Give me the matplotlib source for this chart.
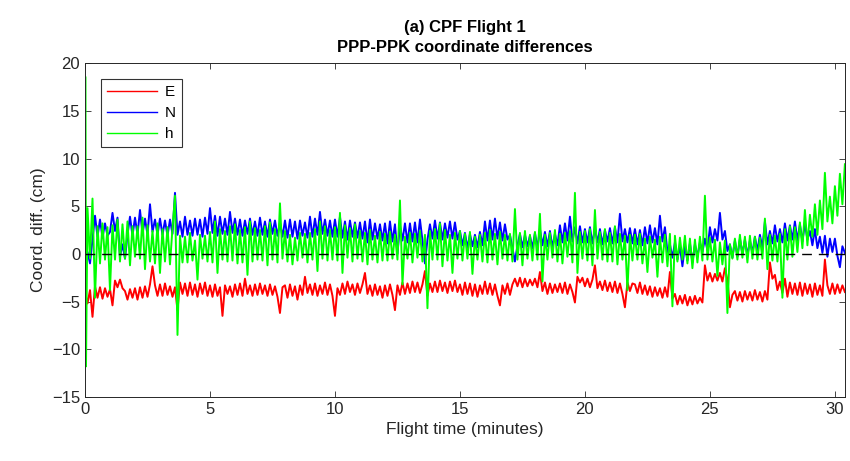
import numpy as np
import matplotlib
matplotlib.use("Agg")
import matplotlib.pyplot as plt

plt.rcParams['font.family'] = ['Liberation Sans', 'DejaVu Sans']

# time grid (minutes), one sample every 0.1 min
t = np.linspace(0, 30.4, 305)

# East differences (cm), 10 samples per minute
dE = [-4.0, -5.2, -3.8, -6.6, -3.4, -4.6, -3.5, -4.7, -3.6, -4.5,
      -3.7, -5.4, -2.8, -3.5, -2.7, -3.6, -3.9, -4.8, -3.7, -4.6,
      -3.6, -4.8, -3.5, -4.6, -3.4, -4.5, -3.2, -1.3, -3.3, -4.4,
      -3.2, -4.4, -3.1, -4.3, -3.4, -4.5, -3.5, -5.9, -3.0, -4.2,
      -3.1, -4.4, -3.0, -4.3, -3.2, -4.5, -3.1, -4.2, -3.0, -4.4,
      -3.3, -4.5, -3.2, -4.4, -3.5, -6.5, -3.3, -4.2, -3.4, -4.5,
      -3.2, -4.3, -3.1, -4.4, -2.6, -4.2, -3.3, -4.4, -3.2, -4.3,
      -3.1, -4.2, -3.3, -4.4, -3.2, -4.3, -3.4, -4.5, -6.2, -3.5,
      -3.3, -4.6, -3.2, -4.4, -3.4, -4.8, -3.3, -4.3, -2.4, -4.1,
      -3.2, -4.3, -3.1, -4.4, -3.3, -4.2, -3.0, -4.3, -3.2, -4.4,
      -6.5, -3.6, -4.3, -3.1, -4.2, -2.9, -4.0, -3.2, -4.3, -3.1,
      -4.1, -3.2, -2.0, -4.2, -3.3, -4.4, -3.2, -4.3, -3.4, -4.6,
      -3.3, -4.4, -3.2, -4.3, -5.9, -3.3, -4.3, -3.0, -4.2, -3.1,
      -4.1, -2.9, -4.0, -3.0, -4.1, -3.2, -1.8, -4.4, -3.1, -4.0,
      -2.9, -4.0, -2.8, -3.9, -3.0, -4.1, -2.9, -3.9, -2.8, -4.0,
      -3.2, -4.3, -3.0, -4.2, -3.1, -4.4, -3.2, -4.5, -3.3, -4.2,
      -2.9, -4.2, -3.1, -4.3, -3.2, -4.4, -5.4, -3.3, -4.2, -3.1,
      -4.3, -3.2, -2.6, -3.4, -2.5, -3.5, -2.6, -3.4, -2.7, -3.3,
      -2.6, -3.5, -1.9, -3.9, -3.0, -4.2, -3.1, -4.1, -3.2, -4.0,
      -3.1, -4.1, -3.0, -4.2, -3.2, -4.0, -5.1, -2.4, -3.0, -2.5,
      -3.4, -2.6, -3.5, -2.7, -1.2, -3.6, -2.9, -3.8, -2.8, -3.9,
      -3.0, -4.0, -2.9, -4.1, -3.1, -4.2, -5.6, -3.0, -3.9, -3.1,
      -3.2, -4.1, -3.0, -4.2, -3.3, -4.3, -3.4, -4.5, -3.5, -4.4,
      -3.6, -4.6, -3.5, -4.5, -1.9, -4.7, -4.2, -5.3, -4.4, -5.2,
      -4.3, -5.4, -4.5, -5.3, -4.4, -5.2, -4.6, -5.1, -1.2, -2.8,
      -2.0, -2.9, -2.1, -2.8, -2.0, -2.9, -1.5, -2.7, -5.6, -4.3,
      -3.9, -4.9, -4.0, -5.0, -3.9, -4.8, -4.0, -4.9, -3.8, -4.8,
      -4.0, -5.0, -3.9, -4.8, -0.9, -2.6, -2.2, -3.8, -2.9, -4.1,
      -2.6, -4.5, -3.0, -4.2, -3.1, -4.3, -3.0, -4.4, -3.1, -4.2,
      -3.2, -4.5, -3.1, -4.3, -3.3, -4.4, -0.6, -3.3, -4.2, -3.1,
      -4.2, -3.2, -4.1, -3.3, -4.0]

# North differences (cm)
dN = [-0.6, 0.2, -1.0, 1.5, 4.0, 1.8, 3.6, 1.7, 3.2, 1.9,
      2.3, 4.3, 2.4, 3.8, -0.3, 1.0, -0.5, 2.0, 3.9, 1.9,
      3.8, 2.0, 4.6, 2.1, 3.7, 2.0, 5.2, 2.3, 3.6, 2.0,
      3.7, 2.0, 3.5, 1.9, 3.6, 2.1, 6.4, 2.0, 3.4, 1.8,
      3.9, 2.0, 3.5, 1.9, 3.7, 2.0, 3.6, 1.8, 3.8, 2.1,
      4.8, 2.2, 4.0, 1.9, 3.9, 2.1, 3.7, 2.0, 4.4, 2.2,
      3.7, 2.0, 3.6, 1.9, 3.5, 2.1, 3.7, 2.0, 3.4, 1.9,
      3.8, 2.0, 3.4, 1.8, 3.6, 2.1, 3.5, 1.9, 3.3, 1.8,
      3.5, 1.7, 3.6, 1.8, 3.4, 1.6, 3.5, 1.9, 3.3, 1.7,
      3.9, 1.8, 3.7, 2.0, 4.4, 2.1, 3.6, 1.9, 3.5, 1.8,
      3.6, 1.8, 3.9, 1.7, 3.4, 1.5, 3.5, 1.8, 3.3, 1.7,
      3.3, 1.6, 3.4, 1.2, 3.6, 1.5, 3.2, 1.6, 3.1, 1.4,
      3.2, 1.1, 3.4, 1.3, 3.1, 0.0, 3.0, 1.4, 3.2, 1.2,
      3.2, 1.3, 3.3, 1.2, 3.6, 1.4, -1.0, 1.5, 3.1, 1.6,
      3.5, 1.6, 3.3, 1.5, 3.2, 1.7, 3.4, 1.6, 3.3, 1.5,
      2.4, 0.9, 2.2, 0.6, 2.1, 0.8, 2.0, 0.7, 2.3, 0.9,
      3.4, 1.4, 3.5, 1.5, 3.7, 1.6, 3.3, 1.4, 3.1, 1.5,
      2.0, 0.6, -0.8, 0.9, 2.1, 0.7, 2.0, 0.8, 1.9, 0.6,
      2.2, 0.6, 2.6, 0.9, 2.3, 0.8, 2.4, 0.7, 2.1, 0.9,
      3.0, 1.2, 3.2, 1.4, 3.9, 1.3, 2.8, 1.1, 2.9, 1.2,
      2.6, 1.2, 2.8, 1.1, 2.7, 1.2, 2.6, 1.0, 2.5, 1.3,
      2.7, 1.1, 2.8, 1.2, 4.2, 1.3, 2.6, 1.2, 2.7, 1.1,
      2.6, 1.0, 2.5, 0.9, 2.8, 1.1, 3.0, 1.2, 2.7, 1.0,
      4.0, 1.3, 2.8, 0.2, 1.0, -0.4, 1.2, -0.6, 0.8, -1.3,
      0.9, -0.7, 1.1, -0.9, 1.0, -0.3, 1.2, 0.2, 1.6, 0.4,
      2.8, 1.2, 2.6, 1.4, 4.3, 1.5, 2.4, 0.3, 1.0, -0.4,
      1.4, -0.3, 1.6, 0.0, 1.5, -0.2, 1.4, 0.1, 1.8, 0.3,
      2.0, 0.6, 3.4, 1.0, 2.4, 1.1, 3.0, 1.3, 2.6, 1.2,
      3.2, 1.4, 3.0, 1.5, 3.4, 1.4, 3.1, 1.3, 3.2, 1.5,
      2.4, 0.9, 2.6, 0.6, 1.8, 0.1, 1.9, -0.3, 1.6, 0.2,
      1.6, -0.2, -1.4, 0.8, 0.1]

# height differences (cm): start-up jump just after t = 0, then the grid from t = 0.1
h_start_t = [0.02, 0.04]
h_start = [18.5, -11.8]
dh = [4.8, -0.5, 5.8, -4.6, 2.9, -1.0, 3.2, -0.6, 2.8,
      -3.8, 3.0, -0.6, 3.6, -0.8, 3.1, -0.5, 3.4, -1.2, 2.9,
      -0.3, 2.9, -0.5, 3.8, -1.6, 3.0, -0.8, 2.4, -1.0, 3.2,
      -2.0, 2.6, -0.8, 2.8, -1.1, 2.7, 6.1, -8.5, 1.9, -0.9,
      1.8, -0.9, 2.2, -0.7, 1.4, -2.7, 2.0, -0.5, 1.9, -0.8,
      2.3, -0.9, 3.4, -2.0, 2.6, -0.6, 2.4, -0.8, 2.9, -0.7,
      3.1, -1.0, 2.5, -0.9, 2.8, -2.2, 3.4, -0.8, 2.7, -0.6,
      2.5, -0.7, 2.9, -1.2, 3.3, -0.6, 2.6, -0.9, 5.3, -0.5,
      2.4, -0.8, 2.0, -1.1, 1.7, -0.7, 2.2, -0.4, 2.1, -0.9,
      2.2, -0.6, 2.6, -1.8, 3.4, -0.5, 2.9, -0.7, 2.5, -0.6,
      2.8, -0.7, 4.3, -2.0, 3.0, -0.4, 2.7, -0.8, 3.1, -0.5,
      2.4, -0.8, 2.2, -1.1, 2.5, -0.6, 1.9, -0.9, 2.3, -0.7,
      2.1, -0.7, 2.3, -0.5, 2.0, -0.6, 5.6, -3.2, 1.8, -0.5,
      2.2, -0.9, 2.1, -0.4, 2.4, -0.8, 2.0, -5.7, 2.4, -0.6,
      2.6, -0.6, 3.2, -1.3, 2.5, -0.7, 2.0, -2.0, 2.2, -0.5,
      2.4, -0.7, 2.1, -0.5, 2.3, -2.1, 1.8, -0.6, 2.0, -0.8,
      2.2, -0.9, 2.5, -0.6, 2.1, -1.1, 2.3, -0.5, 2.0, -0.7,
      2.1, -0.8, 4.7, -0.6, 2.2, -1.2, 2.4, -0.5, 2.0, -0.7,
      2.3, -0.6, 4.2, -2.9, 2.0, -0.6, 2.2, -0.4, 2.5, -0.8,
      2.1, -1.0, 2.2, -0.3, 2.4, -0.9, 6.4, -2.0, 2.3, -0.5,
      2.4, -0.7, 2.6, -1.2, 4.6, -0.5, 2.3, -0.6, 2.6, -0.8,
      2.2, -0.8, 2.9, -1.1, 2.1, -0.6, 1.9, -3.8, 2.0, -0.7,
      2.0, -0.6, 2.1, -1.0, 1.6, -1.9, 1.8, -0.4, 1.5, -2.4,
      1.8, -0.9, 2.0, -1.3, 2.1, -5.5, 1.9, -0.8, 1.7, -0.6,
      1.9, -1.0, 1.6, -1.5, 1.5, -0.9, 1.8, -0.7, 6.1, -0.6,
      1.7, -0.8, 1.5, -2.3, 1.2, -1.1, 1.4, -6.2, 1.0, -0.5,
      1.6, -0.6, 2.0, -0.4, 1.8, -0.9, 1.9, -0.5, 1.8, -0.6,
      1.7, -0.5, 3.7, -1.6, 2.0, -0.7, 1.9, -0.8, 2.1, -4.6,
      2.6, -0.6, 2.9, -0.3, 2.8, 0.2, 3.3, 0.6, 4.6, 0.9,
      4.1, 1.8, 5.2, 2.0, 5.6, 2.6, 8.5, 3.4, 6.0, 3.2,
      7.1, 4.0, 8.4, 5.2, 9.4]

t_h = np.concatenate([h_start_t, t[1:]])
h_all = np.concatenate([h_start, dh])

fig = plt.figure(figsize=(8.5, 4.61), dpi=100)
ax = fig.add_axes([0.1, 0.139, 0.894, 0.724])

ax.plot(t, dE, color='#ff0000', lw=1.4, label='E')
ax.plot(t, dN, color='#0000ff', lw=1.4, label='N')
ax.plot(t_h, h_all, color='#00ff00', lw=1.4, label='h')
ax.axhline(0, color='black', lw=1.0, ls=(0, (7, 5)))

ax.set_xlim(0, 30.4)
ax.set_ylim(-15, 20)
ax.set_xticks(np.arange(0, 31, 5))
ax.set_yticks(np.arange(-15, 21, 5))
ax.tick_params(direction='in', top=True, right=True, labelsize=12, length=4,
               width=0.6, colors='#262626')
for s in ax.spines.values():
    s.set_linewidth(0.7)
    s.set_color('#262626')

ax.set_xlabel('Flight time (minutes)', fontsize=12.5, color='#262626')
ax.set_ylabel('Coord. diff. (cm)', fontsize=12.5, color='#262626')
ax.set_title('(a) CPF Flight 1\nPPP-PPK coordinate differences', fontsize=12,
             fontweight='bold', linespacing=1.45, pad=8)

leg = ax.legend(loc='upper left', bbox_to_anchor=(0.021, 0.952), borderaxespad=0,
                fontsize=11, frameon=True, fancybox=False, edgecolor='black',
                handlelength=3.3, borderpad=0.4, labelspacing=0.45,
                handletextpad=0.5)
leg.get_frame().set_linewidth(0.8)
for line in leg.get_lines():
    line.set_linewidth(1.0)

fig.savefig('out.png', dpi=100)
